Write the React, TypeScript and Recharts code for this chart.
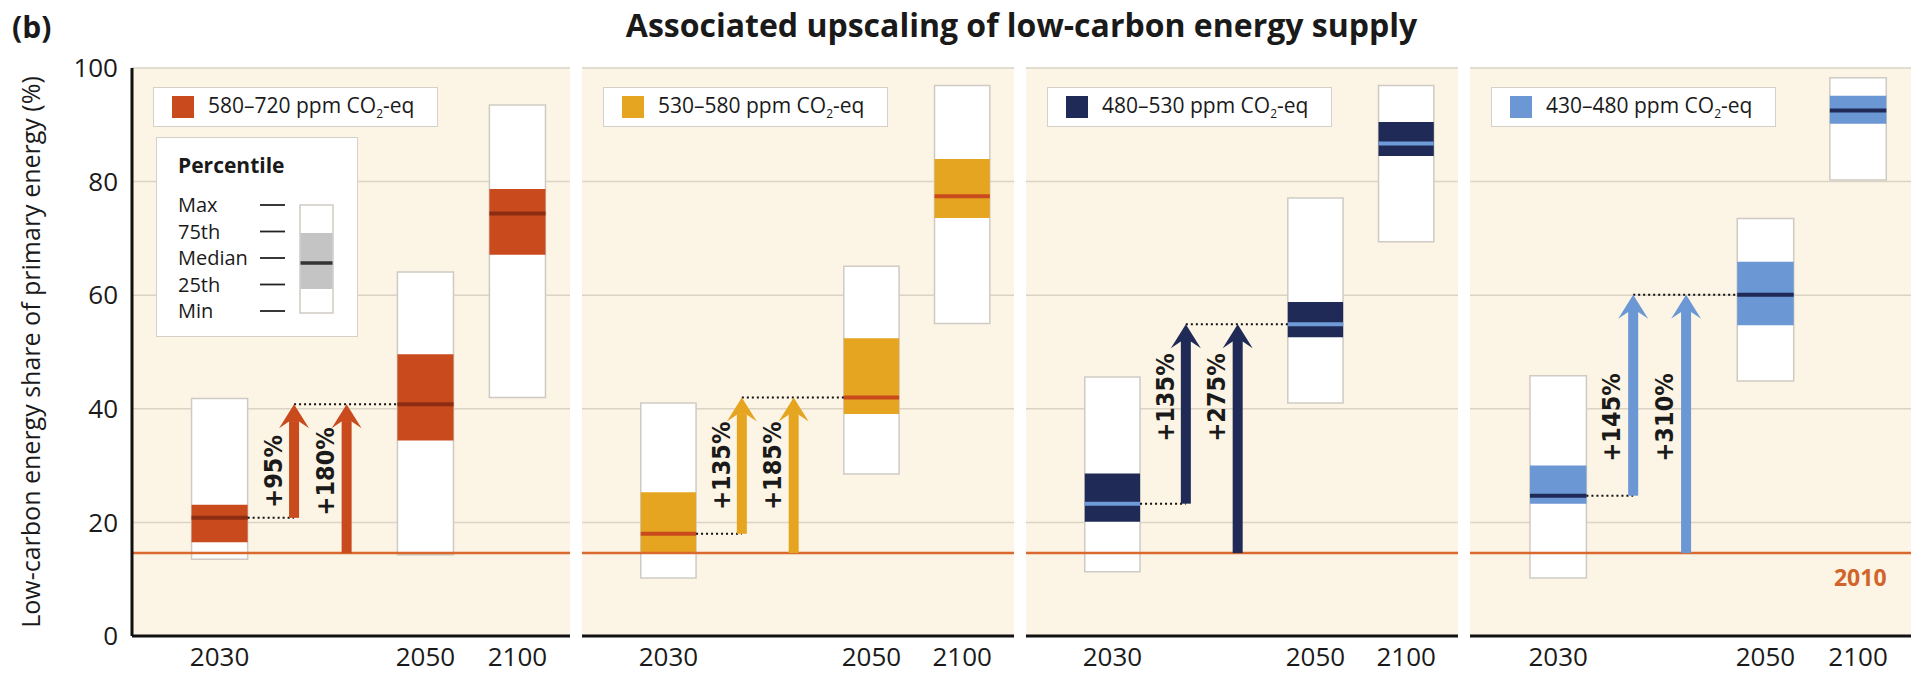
import React from 'react';
import {
  ComposedChart,
  Scatter,
  XAxis,
  YAxis,
  CartesianGrid,
  ReferenceArea,
  ReferenceLine,
  ReferenceDot,
} from 'recharts';

const FONT = "'Open Sans', 'Noto Sans', sans-serif";
const COND = "'DejaVu Sans Condensed', 'Liberation Sans Narrow', 'Roboto', sans-serif";

const years = ['2030', '2050', '2100'];
const yearX = [0.2, 0.67, 0.88];
const yTicks = [0, 20, 40, 60, 80, 100];
const level2010 = 14.6;

const scenarioLabels = ['580–720', '530–580', '480–530', '430–480'];
const boxColors = ['#C94B1D', '#E5A520', '#1F2A56', '#6B97D4'];
const medianColors = ['#8C2C12', '#C94B1D', '#6F9BD8', '#1F2A56'];

// [min, 25th, median, 75th, max] for 2030, 2050, 2100
const boxes580 = [
  [13.5, 16.5, 20.8, 23.1, 41.8],
  [14.3, 34.4, 40.8, 49.6, 64.1],
  [42.0, 67.1, 74.4, 78.7, 93.5],
];
const boxes530 = [
  [10.2, 14.6, 18.0, 25.3, 41.0],
  [28.5, 39.1, 42.0, 52.4, 65.1],
  [55.0, 73.6, 77.4, 84.0, 96.9],
];
const boxes480 = [
  [11.3, 20.1, 23.3, 28.6, 45.6],
  [41.0, 52.6, 54.9, 58.8, 77.1],
  [69.4, 84.5, 86.7, 90.5, 96.9],
];
const boxes430 = [
  [10.2, 23.3, 24.7, 30.0, 45.8],
  [44.9, 54.7, 60.1, 65.9, 73.5],
  [80.3, 90.2, 92.5, 95.1, 98.3],
];
const panelBoxes = [boxes580, boxes530, boxes480, boxes430];

const arrowX = [0.37, 0.49];
const arrowLabels = [
  ['+95%', '+180%'],
  ['+135%', '+185%'],
  ['+135%', '+275%'],
  ['+145%', '+310%'],
];
const arrowLabelY = [29, 30, 42, 38.5];

const BOX_W = 0.064;

const panels = [
  { left: 0, width: 580, ml: 0, mr: 10 },
  { left: 572, width: 452, ml: 10, mr: 10 },
  { left: 1016, width: 452, ml: 10, mr: 10 },
  { left: 1460, width: 461, ml: 10, mr: 10 },
];

const makeArrow = (color: string) => (props: any) => {
  const { x1, y1, y2 } = props;
  const top = Math.min(y1, y2);
  const bottom = Math.max(y1, y2);
  const hh = 24;
  const hw = 15;
  const sw = 5;
  return (
    <g>
      <rect x={x1 - sw} y={top + hh * 0.7} width={sw * 2} height={bottom - top - hh * 0.7} fill={color} />
      <polygon
        points={`${x1},${top} ${x1 + hw},${top + hh} ${x1 + sw},${top + hh * 0.72} ${x1 - sw},${top + hh * 0.72} ${x1 - hw},${top + hh}`}
        fill={color}
      />
    </g>
  );
};

const rotatedText = (text: string) => (props: any) => {
  const { cx, cy } = props;
  return (
    <text
      x={cx}
      y={cy}
      transform={`rotate(-90 ${cx} ${cy})`}
      textAnchor="middle"
      dominantBaseline="central"
      fontFamily={COND}
      fontWeight="bold"
      fontSize={25}
      fill="#1a1a1a"
    >
      {text}
    </text>
  );
};

const label2010 = (props: any) => (
  <text x={props.cx} y={props.cy} textAnchor="middle" dominantBaseline="central"
    fontFamily={FONT} fontWeight="bold" fontSize={23} fill="#D0642A">
    2010
  </text>
);

const yLabel = (props: any) => {
  const vb = props.viewBox;
  const cy = vb.y + vb.height / 2;
  return (
    <text x={30} y={cy} transform={`rotate(-90 30 ${cy})`} textAnchor="middle"
      dominantBaseline="central" fontFamily={FONT} fontSize={25} fill="#1a1a1a">
      Low-carbon energy share of primary energy (%)
    </text>
  );
};

function Panel({ idx }: { idx: number }) {
  const p = panels[idx];
  const boxes = panelBoxes[idx];
  const color = boxColors[idx];
  const medColor = medianColors[idx];
  const first = idx === 0;
  const med30 = boxes[0][2];
  const med50 = boxes[1][2];
  const centers = yearX.map((x, i) => ({ x, y: boxes[i][2] }));

  return (
    <div style={{ position: 'absolute', left: p.left, top: 0 }}>
      <ComposedChart width={p.width} height={680} margin={{ top: 68, right: p.mr, bottom: 12, left: p.ml }}>
        <CartesianGrid vertical={false} fill="#FCF4E4" stroke="#DAD3C6" strokeWidth={1.5} />
        <XAxis
          type="number"
          dataKey="x"
          domain={[0, 1]}
          ticks={yearX}
          tickFormatter={(v: number) => years[yearX.indexOf(v)]}
          axisLine={{ stroke: '#111', strokeWidth: 3 }}
          tickLine={false}
          tickMargin={6}
          height={32}
          tick={{ fill: '#1a1a1a', fontSize: 26, fontFamily: FONT }}
          interval={0}
        />
        <YAxis
          type="number"
          dataKey="y"
          domain={[0, 100]}
          ticks={yTicks}
          hide={!first}
          width={132}
          axisLine={{ stroke: '#111', strokeWidth: 3 }}
          tickLine={false}
          tickMargin={8}
          tick={{ fill: '#1a1a1a', fontSize: 26, fontFamily: FONT }}
          label={first ? yLabel : undefined}
        />
        <ReferenceLine y={level2010} stroke="#D9692C" strokeWidth={2.5} ifOverflow="visible" />
        {boxes.map((b, i) => (
          <ReferenceArea
            key={`box${i}`}
            x1={yearX[i] - BOX_W}
            x2={yearX[i] + BOX_W}
            y1={b[0]}
            y2={b[4]}
            fill="#ffffff"
            fillOpacity={1}
            stroke="#CFCBC4"
            strokeWidth={1.5}
          />
        ))}
        {boxes.map((b, i) => (
          <ReferenceArea
            key={`iqr${i}`}
            x1={yearX[i] - BOX_W}
            x2={yearX[i] + BOX_W}
            y1={b[1]}
            y2={b[3]}
            fill={color}
            fillOpacity={1}
            stroke="none"
          />
        ))}
        {boxes.map((b, i) => (
          <ReferenceLine
            key={`med${i}`}
            segment={[
              { x: yearX[i] - BOX_W, y: b[2] },
              { x: yearX[i] + BOX_W, y: b[2] },
            ]}
            stroke={medColor}
            strokeWidth={4}
          />
        ))}
        <ReferenceLine
          segment={[
            { x: yearX[0] + BOX_W, y: med30 },
            { x: arrowX[0], y: med30 },
          ]}
          stroke="#111"
          strokeWidth={2}
          strokeDasharray="2 3"
        />
        <ReferenceLine
          segment={[
            { x: arrowX[0], y: med50 },
            { x: yearX[1] - BOX_W, y: med50 },
          ]}
          stroke="#111"
          strokeWidth={2}
          strokeDasharray="2 3"
        />
        <ReferenceLine
          segment={[
            { x: arrowX[0], y: med30 },
            { x: arrowX[0], y: med50 },
          ]}
          shape={makeArrow(color)}
        />
        <ReferenceLine
          segment={[
            { x: arrowX[1], y: level2010 },
            { x: arrowX[1], y: med50 },
          ]}
          shape={makeArrow(color)}
        />
        {arrowX.map((ax, i) => (
          <ReferenceDot
            key={`lbl${i}`}
            x={ax - 0.048}
            y={arrowLabelY[idx]}
            r={1}
            shape={rotatedText(arrowLabels[idx][i])}
          />
        ))}
        {idx === 3 && <ReferenceDot x={0.885} y={10.4} r={1} shape={label2010} />}
        <Scatter data={centers} shape={() => <g />} isAnimationActive={false} />
      </ComposedChart>
      <div
        style={{
          position: 'absolute',
          left: p.ml + (first ? 132 : 0) + 21,
          top: 87,
          width: 285,
          height: 40,
          boxSizing: 'border-box',
          background: '#fff',
          border: '1.5px solid #D5D1CA',
          display: 'flex',
          alignItems: 'center',
          fontFamily: FONT,
          fontSize: 21,
          color: '#1a1a1a',
        }}
      >
        <span style={{ display: 'inline-block', width: 22, height: 22, background: color, marginLeft: 18, marginRight: 14 }} />
        <span>
          {scenarioLabels[idx]} ppm CO<sub style={{ fontSize: 12 }}>2</sub>-eq
        </span>
      </div>
      {first && <PercentileKey />}
    </div>
  );
}

const percentileRows = ['Max', '75th', 'Median', '25th', 'Min'];

function PercentileKey() {
  return (
    <div
      style={{
        position: 'absolute',
        left: 156,
        top: 137,
        width: 202,
        height: 200,
        boxSizing: 'border-box',
        background: '#fff',
        border: '1.5px solid #D5D1CA',
        fontFamily: FONT,
        color: '#1a1a1a',
      }}
    >
      <div style={{ position: 'absolute', left: 21, top: 13, fontSize: 21, fontWeight: 'bold' }}>Percentile</div>
      {percentileRows.map((r, i) => (
        <div key={r} style={{ position: 'absolute', left: 21, top: 54 + i * 26.5, fontSize: 20, lineHeight: '26px' }}>
          {r}
        </div>
      ))}
      <svg style={{ position: 'absolute', left: 0, top: 0 }} width={200} height={198}>
        {percentileRows.map((r, i) => (
          <line key={r} x1={103} x2={128} y1={67 + i * 26.5} y2={67 + i * 26.5} stroke="#222" strokeWidth={1.8} />
        ))}
        <rect x={143} y={67} width={33} height={108} fill="#fff" stroke="#CFCBC4" strokeWidth={1.5} />
        <rect x={143.5} y={95} width={32} height={56} fill="#C4C4C4" />
        <line x1={143.5} x2={175.5} y1={125} y2={125} stroke="#333" strokeWidth={3.5} />
      </svg>
    </div>
  );
}

export default function App() {
  return (
    <div style={{ position: 'absolute', left: 0, top: 0, width: 1921, height: 680, background: '#fff', overflow: 'hidden' }}>
      <div style={{ position: 'absolute', left: 12, top: 6, fontFamily: FONT, fontWeight: 'bold', fontSize: 30, color: '#1a1a1a' }}>
        (b)
      </div>
      <div
        style={{
          position: 'absolute',
          left: 132,
          width: 1779,
          top: 3,
          textAlign: 'center',
          fontFamily: FONT,
          fontWeight: 'bold',
          fontSize: 32,
          color: '#1a1a1a',
        }}
      >
        Associated upscaling of low-carbon energy supply
      </div>
      {panels.map((_, i) => (
        <Panel key={i} idx={i} />
      ))}
    </div>
  );
}
